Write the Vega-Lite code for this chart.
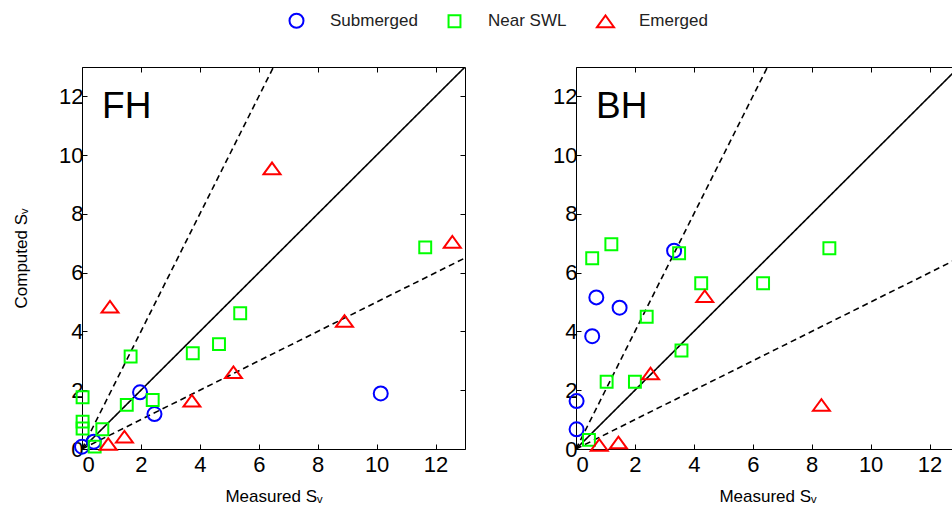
{
  "$schema": "https://vega.github.io/schema/vega-lite/v6.json",
  "autosize": {"type": "none"},
  "padding": {"left": 82, "top": 67, "right": 870, "bottom": 445},
  "background": "white",
  "config": {
    "font": "Liberation Sans",
    "view": {"stroke": "black", "strokeWidth": 1},
    "axis": {"grid": false, "domain": false, "tickColor": "black", "tickSize": -5, "labelColor": "black", "labelFontSize": 22, "labelFont": "Liberation Sans", "titleFont": "Liberation Sans", "titleFontSize": 17, "titleFontWeight": "normal", "titleColor": "black"},
    "legend": {"labelFont": "Liberation Sans"}
  },
  "datasets": {
    "points": [
      {"panel": "FH", "type": "Submerged", "x": 0.0, "y": 0.08},
      {"panel": "FH", "type": "Submerged", "x": 0.4, "y": 0.25},
      {"panel": "FH", "type": "Submerged", "x": 1.97, "y": 1.93},
      {"panel": "FH", "type": "Submerged", "x": 2.46, "y": 1.19},
      {"panel": "FH", "type": "Submerged", "x": 10.14, "y": 1.89},
      {"panel": "FH", "type": "Near SWL", "x": 0.02, "y": 1.76},
      {"panel": "FH", "type": "Near SWL", "x": 0.02, "y": 0.93},
      {"panel": "FH", "type": "Near SWL", "x": 0.02, "y": 0.7},
      {"panel": "FH", "type": "Near SWL", "x": 0.69, "y": 0.67},
      {"panel": "FH", "type": "Near SWL", "x": 0.43, "y": 0.08},
      {"panel": "FH", "type": "Near SWL", "x": 1.65, "y": 3.15},
      {"panel": "FH", "type": "Near SWL", "x": 1.52, "y": 1.5},
      {"panel": "FH", "type": "Near SWL", "x": 2.4, "y": 1.67},
      {"panel": "FH", "type": "Near SWL", "x": 3.76, "y": 3.26},
      {"panel": "FH", "type": "Near SWL", "x": 4.65, "y": 3.57},
      {"panel": "FH", "type": "Near SWL", "x": 5.37, "y": 4.62},
      {"panel": "FH", "type": "Near SWL", "x": 11.65, "y": 6.86},
      {"panel": "FH", "type": "Emerged", "x": 0.95, "y": 4.84},
      {"panel": "FH", "type": "Emerged", "x": 0.89, "y": 0.17},
      {"panel": "FH", "type": "Emerged", "x": 1.44, "y": 0.42},
      {"panel": "FH", "type": "Emerged", "x": 3.73, "y": 1.64},
      {"panel": "FH", "type": "Emerged", "x": 5.14, "y": 2.61},
      {"panel": "FH", "type": "Emerged", "x": 6.45, "y": 9.55},
      {"panel": "FH", "type": "Emerged", "x": 8.91, "y": 4.36},
      {"panel": "FH", "type": "Emerged", "x": 12.57, "y": 7.05},
      {"panel": "BH", "type": "Submerged", "x": 0.02, "y": 1.63},
      {"panel": "BH", "type": "Submerged", "x": 0.02, "y": 0.67},
      {"panel": "BH", "type": "Submerged", "x": 0.55, "y": 3.84},
      {"panel": "BH", "type": "Submerged", "x": 0.69, "y": 5.16},
      {"panel": "BH", "type": "Submerged", "x": 1.48, "y": 4.81},
      {"panel": "BH", "type": "Submerged", "x": 3.33, "y": 6.75},
      {"panel": "BH", "type": "Near SWL", "x": 0.55, "y": 6.49},
      {"panel": "BH", "type": "Near SWL", "x": 1.2, "y": 6.97},
      {"panel": "BH", "type": "Near SWL", "x": 0.44, "y": 0.31},
      {"panel": "BH", "type": "Near SWL", "x": 1.04, "y": 2.29},
      {"panel": "BH", "type": "Near SWL", "x": 2.0, "y": 2.29},
      {"panel": "BH", "type": "Near SWL", "x": 2.4, "y": 4.5},
      {"panel": "BH", "type": "Near SWL", "x": 3.5, "y": 6.66},
      {"panel": "BH", "type": "Near SWL", "x": 3.58, "y": 3.35},
      {"panel": "BH", "type": "Near SWL", "x": 4.25, "y": 5.64},
      {"panel": "BH", "type": "Near SWL", "x": 6.35, "y": 5.64},
      {"panel": "BH", "type": "Near SWL", "x": 8.6, "y": 6.83},
      {"panel": "BH", "type": "Emerged", "x": 0.79, "y": 0.14},
      {"panel": "BH", "type": "Emerged", "x": 1.44, "y": 0.22},
      {"panel": "BH", "type": "Emerged", "x": 2.53, "y": 2.57},
      {"panel": "BH", "type": "Emerged", "x": 4.37, "y": 5.2},
      {"panel": "BH", "type": "Emerged", "x": 8.33, "y": 1.5}
    ],
    "lines": [
      {"line": "a", "style": "solid", "x": 0, "y": 0},
      {"line": "a", "style": "solid", "x": 13, "y": 13},
      {"line": "b", "style": "dashed", "x": 0, "y": 0},
      {"line": "b", "style": "dashed", "x": 6.5, "y": 13},
      {"line": "c", "style": "dashed", "x": 0, "y": 0},
      {"line": "c", "style": "dashed", "x": 13, "y": 6.5}
    ],
    "labels": [
      {"panel": "FH", "x": 0.68, "y": 11.25, "label": "FH"},
      {"panel": "BH", "x": 0.68, "y": 11.25, "label": "BH"}
    ]
  },
  "resolve": {"scale": {"x": "independent", "y": "independent"}},
  "spacing": 86,
  "hconcat": [
    {
      "width": 383,
      "height": 382,
      "layer": [
        {
          "data": {"name": "lines"},
          "mark": {"type": "line", "color": "black", "strokeWidth": 1.6, "clip": true},
          "encoding": {
            "x": {"field": "x", "type": "quantitative", "scale": {"domain": [0, 13], "nice": false, "zero": false}, "axis": {"orient": "top", "values": [0, 2, 4, 6, 8, 10, 12], "labels": false, "title": null}},
            "y": {"field": "y", "type": "quantitative", "scale": {"domain": [0, 13], "nice": false, "zero": false}, "axis": {"orient": "right", "values": [0, 2, 4, 6, 8, 10, 12], "labels": false, "title": null}},
            "detail": {"field": "line"},
            "strokeDash": {"field": "style", "type": "nominal", "scale": {"domain": ["solid", "dashed"], "range": [[1, 0], [6, 4]]}, "legend": null}
          }
        },
        {
          "data": {"name": "points"},
          "transform": [{"filter": "datum.panel == 'FH'"}],
          "mark": {"type": "point", "filled": false, "strokeWidth": 2, "opacity": 1, "size": 196},
          "encoding": {
            "x": {"field": "x", "type": "quantitative", "axis": {"orient": "bottom", "values": [0, 2, 4, 6, 8, 10, 12], "labelPadding": 10, "title": "Measured Sᵥ", "titlePadding": 13}},
            "y": {"field": "y", "type": "quantitative", "axis": {"orient": "left", "values": [0, 2, 4, 6, 8, 10, 12], "labelPadding": 4, "title": "Computed Sᵥ", "titlePadding": 28}},
            "color": {"field": "type", "type": "nominal", "scale": {"domain": ["Submerged", "Near SWL", "Emerged"], "range": ["#0000ff", "#00ff00", "#ff0000"]}, "title": null, "legend": {"orient": "none", "direction": "horizontal", "legendX": 206, "legendY": -55, "labelFontSize": 17, "labelOffset": 25, "columnPadding": 26, "symbolStrokeWidth": 2, "symbolSize": 196, "labelColor": "#222222"}},
            "shape": {"field": "type", "type": "nominal", "scale": {"domain": ["Submerged", "Near SWL", "Emerged"], "range": ["circle", "M-0.85,-0.85L0.85,-0.85L0.85,0.85L-0.85,0.85Z", "M-1.21,0.83L0,-0.83L1.21,0.83Z"]}, "title": null}
          }
        },
        {
          "data": {"name": "labels"},
          "transform": [{"filter": "datum.panel == 'FH'"}],
          "mark": {"type": "text", "align": "left", "baseline": "alphabetic", "fontSize": 37, "color": "black"},
          "encoding": {
            "x": {"field": "x", "type": "quantitative", "axis": null},
            "y": {"field": "y", "type": "quantitative", "axis": null},
            "text": {"field": "label"}
          }
        }
      ],
      "resolve": {"axis": {"x": "independent", "y": "independent"}}
    },
    {
      "width": 383,
      "height": 382,
      "layer": [
        {
          "data": {"name": "lines"},
          "mark": {"type": "line", "color": "black", "strokeWidth": 1.6, "clip": true},
          "encoding": {
            "x": {"field": "x", "type": "quantitative", "scale": {"domain": [0, 13], "nice": false, "zero": false}, "axis": {"orient": "top", "values": [0, 2, 4, 6, 8, 10, 12], "labels": false, "title": null}},
            "y": {"field": "y", "type": "quantitative", "scale": {"domain": [0, 13], "nice": false, "zero": false}, "axis": {"orient": "right", "values": [0, 2, 4, 6, 8, 10, 12], "labels": false, "title": null}},
            "detail": {"field": "line"},
            "strokeDash": {"field": "style", "type": "nominal", "scale": {"domain": ["solid", "dashed"], "range": [[1, 0], [6, 4]]}, "legend": null}
          }
        },
        {
          "data": {"name": "points"},
          "transform": [{"filter": "datum.panel == 'BH'"}],
          "mark": {"type": "point", "filled": false, "strokeWidth": 2, "opacity": 1, "size": 196},
          "encoding": {
            "x": {"field": "x", "type": "quantitative", "axis": {"orient": "bottom", "values": [0, 2, 4, 6, 8, 10, 12], "labelPadding": 10, "title": "Measured Sᵥ", "titlePadding": 13}},
            "y": {"field": "y", "type": "quantitative", "axis": {"orient": "left", "values": [0, 2, 4, 6, 8, 10, 12], "labelPadding": 4, "title": null}},
            "color": {"field": "type", "type": "nominal", "scale": {"domain": ["Submerged", "Near SWL", "Emerged"], "range": ["#0000ff", "#00ff00", "#ff0000"]}, "title": null},
            "shape": {"field": "type", "type": "nominal", "scale": {"domain": ["Submerged", "Near SWL", "Emerged"], "range": ["circle", "M-0.85,-0.85L0.85,-0.85L0.85,0.85L-0.85,0.85Z", "M-1.21,0.83L0,-0.83L1.21,0.83Z"]}, "title": null}
          }
        },
        {
          "data": {"name": "labels"},
          "transform": [{"filter": "datum.panel == 'BH'"}],
          "mark": {"type": "text", "align": "left", "baseline": "alphabetic", "fontSize": 37, "color": "black"},
          "encoding": {
            "x": {"field": "x", "type": "quantitative", "axis": null},
            "y": {"field": "y", "type": "quantitative", "axis": null},
            "text": {"field": "label"}
          }
        }
      ],
      "resolve": {"axis": {"x": "independent", "y": "independent"}}
    }
  ]
}
